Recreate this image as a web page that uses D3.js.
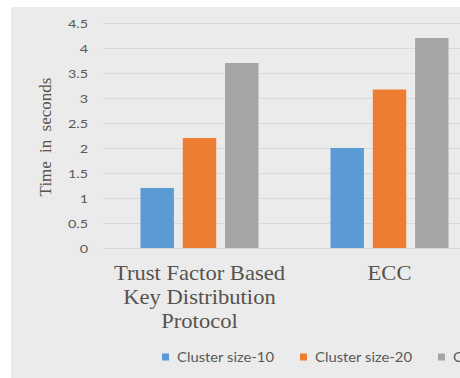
<!DOCTYPE html>
<html>
<head>
<meta charset="utf-8">
<script src="https://cdn.jsdelivr.net/npm/d3@7"></script>
<style>
  html, body { margin: 0; padding: 0; background: #ffffff; }
  svg { display: block; }
</style>
</head>
<body>
<svg id="chart" width="460" height="378"></svg>
<script>
// Chart data
const categories = ["Trust Factor Based Key Distribution Protocol", "ECC"];
const categoryLines = [["Trust Factor Based", "Key Distribution", "Protocol"], ["ECC"]];
const seriesNames = ["Cluster size-10", "Cluster size-20", "Cluster size-30"];
const cluster10 = [1.2, 2.0];
const cluster20 = [2.2, 3.17];
const cluster30 = [3.7, 4.2];
const yTicks = [0, 0.5, 1, 1.5, 2, 2.5, 3, 3.5, 4, 4.5];
const seriesColors = ["#5b9bd5", "#ed7d31", "#a5a5a5"];

const seriesValues = [cluster10, cluster20, cluster30];
const rows = categories.map((c, i) => ({
  category: c,
  values: seriesNames.map((s, j) => ({ series: s, value: seriesValues[j][i] }))
}));

const svg = d3.select("#chart");
const textColor = "#595959";

// chart area background
svg.append("rect")
  .attr("x", 11).attr("y", 7)
  .attr("width", 449).attr("height", 371)
  .attr("fill", "#ebebeb");

const plotLeft = 104.5, bandW = 190;
const x = d3.scaleBand()
  .domain(categories)
  .range([plotLeft, plotLeft + bandW * categories.length])
  .padding(0);
const xSub = d3.scaleBand()
  .domain(seriesNames)
  .range([36, 154])
  .paddingInner(0.21)
  .paddingOuter(0);
const y = d3.scaleLinear().domain([0, 4.5]).range([248, 23]);

// gridlines + tick labels
const yAxis = d3.axisLeft(y)
  .tickValues(yTicks)
  .tickSize(-(460 - 103))
  .tickFormat(d3.format("~g"));
const gAxis = svg.append("g")
  .attr("transform", "translate(103,0)")
  .call(yAxis);
gAxis.select(".domain").remove();
gAxis.selectAll(".tick line")
  .attr("stroke", "#d9d9d9")
  .attr("stroke-width", 1);
gAxis.selectAll(".tick text")
  .attr("x", 0)
  .attr("dy", "0.36em")
  .attr("transform", "translate(-15,0) scale(1.2,1)")
  .attr("fill", textColor)
  .attr("font-family", "Lato, 'Liberation Sans', sans-serif")
  .attr("font-size", 12);

// bars
const groups = svg.append("g").selectAll("g")
  .data(rows)
  .join("g")
  .attr("transform", d => `translate(${x(d.category)},0)`);
groups.selectAll("rect")
  .data(d => d.values)
  .join("rect")
  .attr("x", d => xSub(d.series))
  .attr("width", xSub.bandwidth())
  .attr("y", d => y(d.value))
  .attr("height", d => y(0) - y(d.value))
  .attr("fill", (d, i) => seriesColors[i]);

// category labels
categories.forEach((c, i) => {
  const cx = x(c) + x.bandwidth() / 2;
  categoryLines[i].forEach((line, k) => {
    svg.append("text")
      .attr("transform", `translate(${cx},${280 + k * 24}) scale(1.13,1)`)
      .attr("text-anchor", "middle")
      .attr("font-family", "'Liberation Serif', 'Times New Roman', serif")
      .attr("font-size", 20)
      .attr("fill", "#57524d")
      .text(line);
  });
});

// y axis title
svg.append("text")
  .attr("transform", "translate(51,137) rotate(-90)")
  .attr("text-anchor", "middle")
  .attr("font-family", "'Liberation Serif', 'Times New Roman', serif")
  .attr("font-size", 17)
  .attr("fill", "#57524d")
  .attr("word-spacing", 4)
  .text("Time in seconds");

// legend (last entry runs past the right edge of the chart area)
const legend = svg.append("g").selectAll("g")
  .data(seriesNames)
  .join("g")
  .attr("transform", (d, i) => `translate(${162 + i * 138},353.5)`);
legend.append("rect")
  .attr("width", 7).attr("height", 7)
  .attr("fill", (d, i) => seriesColors[i]);
legend.append("text")
  .attr("x", 15)
  .attr("y", 8)
  .attr("font-family", "Lato, 'Liberation Sans', sans-serif")
  .attr("font-size", 14)
  .attr("fill", textColor)
  .attr("textLength", 97)
  .attr("lengthAdjust", "spacingAndGlyphs")
  .text(d => d);
</script>
</body>
</html>
